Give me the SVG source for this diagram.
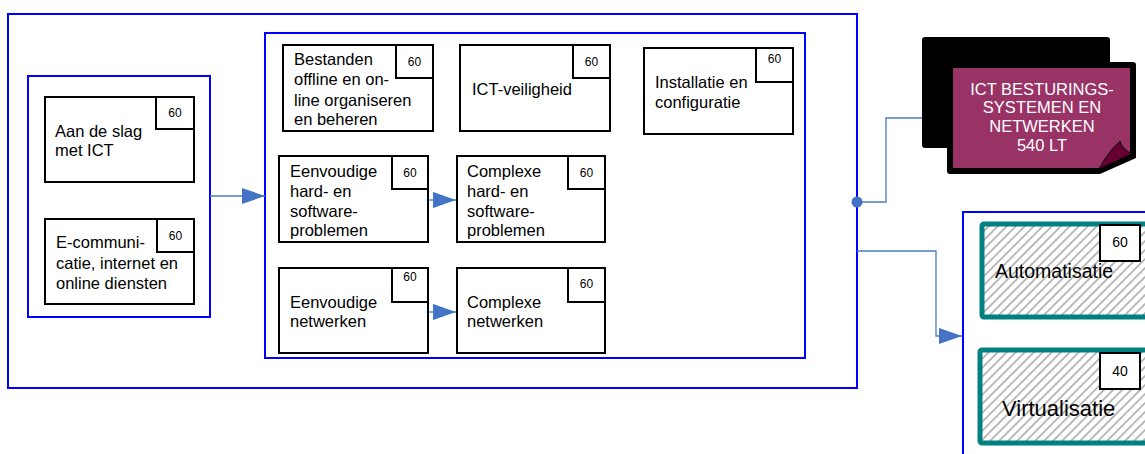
<svg xmlns="http://www.w3.org/2000/svg" width="1145" height="454" viewBox="0 0 1145 454">
<style>
  .grp { fill: none; stroke: #0000ff; stroke-width: 2; }
  .node { fill: #ffffff; stroke: #000000; stroke-width: 2; }
  .badge { fill: #ffffff; stroke: #000000; stroke-width: 2; }
  .t { font-family: "Liberation Sans", Arial, sans-serif; font-size: 16.5px; fill: #000000; }
  .b { font-family: "Liberation Sans", Arial, sans-serif; font-size: 12px; fill: #000000; text-anchor: middle; }
  .bb { font-family: "Liberation Sans", Arial, sans-serif; font-size: 14px; fill: #000000; text-anchor: middle; }
  .w { font-family: "Liberation Sans", Arial, sans-serif; font-size: 16.5px; fill: #ffffff; text-anchor: middle; }
  .conn { fill: none; stroke: #4a7cc4; stroke-width: 1.3; }
  .opt { fill: url(#hatch); stroke: #008080; stroke-width: 5; }
</style>
<defs>
  <marker id="arr" markerUnits="userSpaceOnUse" markerWidth="24" markerHeight="16" refX="23" refY="8" orient="auto">
    <path d="M0,0 L23,8 L0,16 Z" fill="#4472c4"/>
  </marker>
  <pattern id="hatch" patternUnits="userSpaceOnUse" width="9" height="9">
    <rect width="9" height="9" fill="#ffffff"/>
    <path d="M-1,10 L10,-1 M-1,1 L1,-1 M8,10 L10,8" stroke="#b4b4b4" stroke-width="1.7"/>
  </pattern>
</defs>
<rect width="1145" height="454" fill="#ffffff"/>

<g id="groups">
  <rect class="grp" x="8" y="14" width="849" height="374"/>
  <rect class="grp" x="28" y="76" width="182" height="241"/>
  <rect class="grp" x="265" y="33" width="540" height="325"/>
  <rect class="grp" x="963" y="212" width="200" height="260"/>
</g>

<g id="connectors">
  <path class="conn" d="M210,196 H265" marker-end="url(#arr)"/>
  <path class="conn" d="M429,200 H456" marker-end="url(#arr)"/>
  <path class="conn" d="M429,312 H456" marker-end="url(#arr)"/>
  <path class="conn" d="M857,202 H886 V118 H922"/>
  <path class="conn" d="M857,251 H936 V336 H962" marker-end="url(#arr)"/>
  <circle cx="857" cy="202" r="5.5" fill="#4472c4"/>
</g>

<g id="aan-de-slag">
  <rect class="node" x="45" y="97" width="149" height="85"/>
  <rect class="badge" x="156" y="97" width="38" height="32"/>
  <text class="b" x="175" y="117">60</text>
  <text class="t" x="55" y="137">Aan de slag</text>
  <text class="t" x="55" y="156">met ICT</text>
</g>

<g id="e-communicatie">
  <rect class="node" x="45" y="219" width="149" height="85"/>
  <rect class="badge" x="157" y="219" width="37" height="33"/>
  <text class="b" x="175.5" y="239.5">60</text>
  <text class="t" x="56" y="248">E-communi-</text>
  <text class="t" x="56" y="268.5">catie, internet en</text>
  <text class="t" x="56" y="289">online diensten</text>
</g>

<g id="bestanden">
  <rect class="node" x="283" y="45" width="150" height="86"/>
  <rect class="badge" x="396" y="45" width="37" height="33"/>
  <text class="b" x="414.5" y="65.5">60</text>
  <text class="t" x="294" y="65">Bestanden</text>
  <text class="t" x="294" y="85">offline en on-</text>
  <text class="t" x="294" y="105.5">line organiseren</text>
  <text class="t" x="294" y="125">en beheren</text>
</g>

<g id="ict-veiligheid">
  <rect class="node" x="460" y="45" width="150" height="86"/>
  <rect class="badge" x="573" y="45" width="37" height="33"/>
  <text class="b" x="591.5" y="65.5">60</text>
  <text class="t" x="472" y="95">ICT-veiligheid</text>
</g>

<g id="installatie">
  <rect class="node" x="644" y="48" width="149" height="86"/>
  <rect class="badge" x="756" y="48" width="37" height="34"/>
  <text class="b" x="774.5" y="62.5">60</text>
  <text class="t" x="655" y="88">Installatie en</text>
  <text class="t" x="655" y="108">configuratie</text>
</g>

<g id="eenvoudige-hard">
  <rect class="node" x="279" y="156" width="149" height="86"/>
  <rect class="badge" x="392" y="156" width="36" height="33"/>
  <text class="b" x="410" y="176.5">60</text>
  <text class="t" x="290" y="177">Eenvoudige</text>
  <text class="t" x="290" y="197">hard-  en</text>
  <text class="t" x="290" y="217">software-</text>
  <text class="t" x="290" y="236">problemen</text>
</g>

<g id="complexe-hard">
  <rect class="node" x="457" y="156" width="148" height="86"/>
  <rect class="badge" x="568" y="156" width="37" height="33"/>
  <text class="b" x="586.5" y="176.5">60</text>
  <text class="t" x="467" y="177">Complexe</text>
  <text class="t" x="467" y="197">hard- en</text>
  <text class="t" x="467" y="217">software-</text>
  <text class="t" x="467" y="236">problemen</text>
</g>

<g id="eenvoudige-netwerken">
  <rect class="node" x="279" y="268" width="149" height="85"/>
  <rect class="badge" x="392" y="268" width="36" height="34"/>
  <text class="b" x="410" y="281">60</text>
  <text class="t" x="290" y="308">Eenvoudige</text>
  <text class="t" x="290" y="327">netwerken</text>
</g>

<g id="complexe-netwerken">
  <rect class="node" x="457" y="268" width="148" height="85"/>
  <rect class="badge" x="568" y="268" width="37" height="34"/>
  <text class="b" x="586.5" y="288">60</text>
  <text class="t" x="467" y="308">Complexe</text>
  <text class="t" x="467" y="327">netwerken</text>
</g>

<g id="ict-besturingssystemen">
  <rect x="922" y="37" width="188" height="111" rx="3" fill="#000000"/>
  <path d="M950,62 H1133 Q1136,62 1136,65 V158 L1100,174 H950 Q947,174 947,171 V65 Q947,62 950,62 Z" fill="#000000"/>
  <path d="M953,68 H1130 V152 L1099,168 H953 Z" fill="#993366"/>
  <path d="M1099,169 Q1108,152 1120,141 Q1122,149 1132,154 Z" fill="#660033" stroke="#000000" stroke-width="1"/>
  <text class="w" x="1042" y="95">ICT BESTURINGS-</text>
  <text class="w" x="1042" y="113">SYSTEMEN EN</text>
  <text class="w" x="1042" y="132">NETWERKEN</text>
  <text class="w" x="1042" y="151">540 LT</text>
</g>

<g id="automatisatie">
  <rect class="opt" x="982" y="224" width="175" height="93" rx="2"/>
  <rect class="badge" x="1100" y="225" width="40" height="36"/>
  <text class="bb" x="1120" y="247">60</text>
  <text class="t" x="995" y="278" style="font-size:19.5px">Automatisatie</text>
</g>

<g id="virtualisatie">
  <rect class="opt" x="980" y="350" width="177" height="93" rx="2"/>
  <rect class="badge" x="1100" y="353" width="40" height="36"/>
  <text class="bb" x="1120" y="376">40</text>
  <text class="t" x="1002" y="416" style="font-size:22px">Virtualisatie</text>
</g>
</svg>
